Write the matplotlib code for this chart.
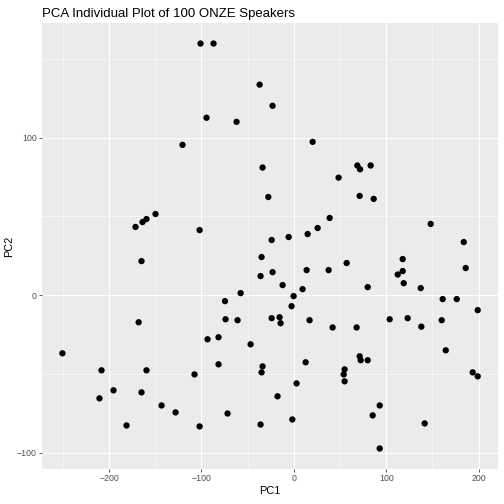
import numpy as np
import matplotlib
matplotlib.use("Agg")
import matplotlib.pyplot as plt
from matplotlib.ticker import MultipleLocator

# PCA scores
pc1 = [-101, -86.9, -37, -94.5, -62, -120.5, -33.8,
       -23, 20.4, 68.8, 71.7, 83.2, 48.5,
       -27.6, -149.7, -159.5, -163.8, -171.4, -102, -164.9, -34.9, -36, -57.6,
       -74.5, -73.9, -60.9, -168,
       71.3, 86.5, 38.8, 148.2, 25.8, 15, -5.6, -24, 184, 117.9, 57.2, 186.1,
       -23, 13.9, 37.7, 117.9, 112.5, 119, -12.1, 80, 137.4, 9.5, -0.2, 161.2,
       176.4, -2.4, 199.1, -24, -15.4, -14.3, 17.1, 42, 68, 103.8, 123.3, 138.1,
       160.1,
       -250.5, -208.2, -210.4, -195.2, -181.1, -164.9, -159.5, -143.2, -128,
       -107.5, -102, -93.4, -81.5, -81.5, -71.7, -46.8, -33.8, -34.9, -36,
       12.8, -17.6, 3, -1.6, 164.5, 71.3, 72.4, 80, 55, 54, 55, 93, 85.4, 141.7,
       93, 193.7, 199.1]
pc2 = [159.7, 159.7, 133.6, 112.6, 110, 95.4, 81,
       120.2, 97.3, 82.3, 79.9, 82.3, 74.6,
       62.3, 51.5, 48.3, 46.4, 43.3, 41.3, 21.6, 24.2, 12.1, 1.3,
       -3.8, -15.3, -15.9, -17.2,
       63, 61.1, 49, 45.2, 42.6, 38.8, 36.9, 35, 33.7, 22.9, 20.4, 17.2,
       14.6, 15.9, 15.9, 15.3, 13.1, 7.6, 6.4, 5.1, 4.5, 3.8, -0.6, -2.5,
       -2.5, -7, -9.5, -14.6, -14, -17.8, -15.9, -20.5, -20.5, -15.3, -14.6, -20,
       -15.9,
       -36.9, -47.7, -65.5, -60.4, -82.7, -61.7, -47.7, -70, -74.4,
       -50.3, -83.3, -28, -26.7, -43.9, -75.1, -31.2, -45.2, -49, -82.1,
       -42.6, -64.2, -56, -78.9, -35, -38.8, -41.3, -41.3, -47.1, -50.3, -54.7,
       -70, -76.3, -81.4, -97.3, -49, -51.5]

plt.rcParams['font.family'] = ['Liberation Sans', 'DejaVu Sans']

fig = plt.figure(figsize=(7, 7), dpi=72)
ax = fig.add_axes([0.0827, 0.070, 0.9063, 0.8838])

ax.set_facecolor('#EBEBEB')
for s in ax.spines.values():
    s.set_visible(False)

ax.scatter(pc1, pc2, s=40, color='black', edgecolors='none', zorder=3)

# ggplot-like 5% expansion
x = np.array(pc1)
y = np.array(pc2)
xr = x.max() - x.min()
yr = y.max() - y.min()
ax.set_xlim(x.min() - 0.05 * xr, x.max() + 0.05 * xr)
ax.set_ylim(y.min() - 0.05 * yr, y.max() + 0.05 * yr)

ax.xaxis.set_major_locator(MultipleLocator(100))
ax.yaxis.set_major_locator(MultipleLocator(100))
ax.xaxis.set_minor_locator(MultipleLocator(50))
ax.yaxis.set_minor_locator(MultipleLocator(50))
ax.grid(True, which='major', color='white', linewidth=1.1, zorder=0)
ax.grid(True, which='minor', color='white', linewidth=0.55, zorder=0)
ax.set_axisbelow(True)

ax.tick_params(which='major', length=2.75, width=0.8, color='#333333',
               labelsize=8.8, labelcolor='#4D4D4D', pad=2.2)
ax.tick_params(which='minor', length=0)

ax.set_xlabel('PC1', fontsize=11, labelpad=3)
ax.set_ylabel('PC2', fontsize=11, labelpad=3)
ax.set_title('PCA Individual Plot of 100 ONZE Speakers', fontsize=13.2,
             loc='left', pad=6)

fig.savefig('out.png', dpi=72)
